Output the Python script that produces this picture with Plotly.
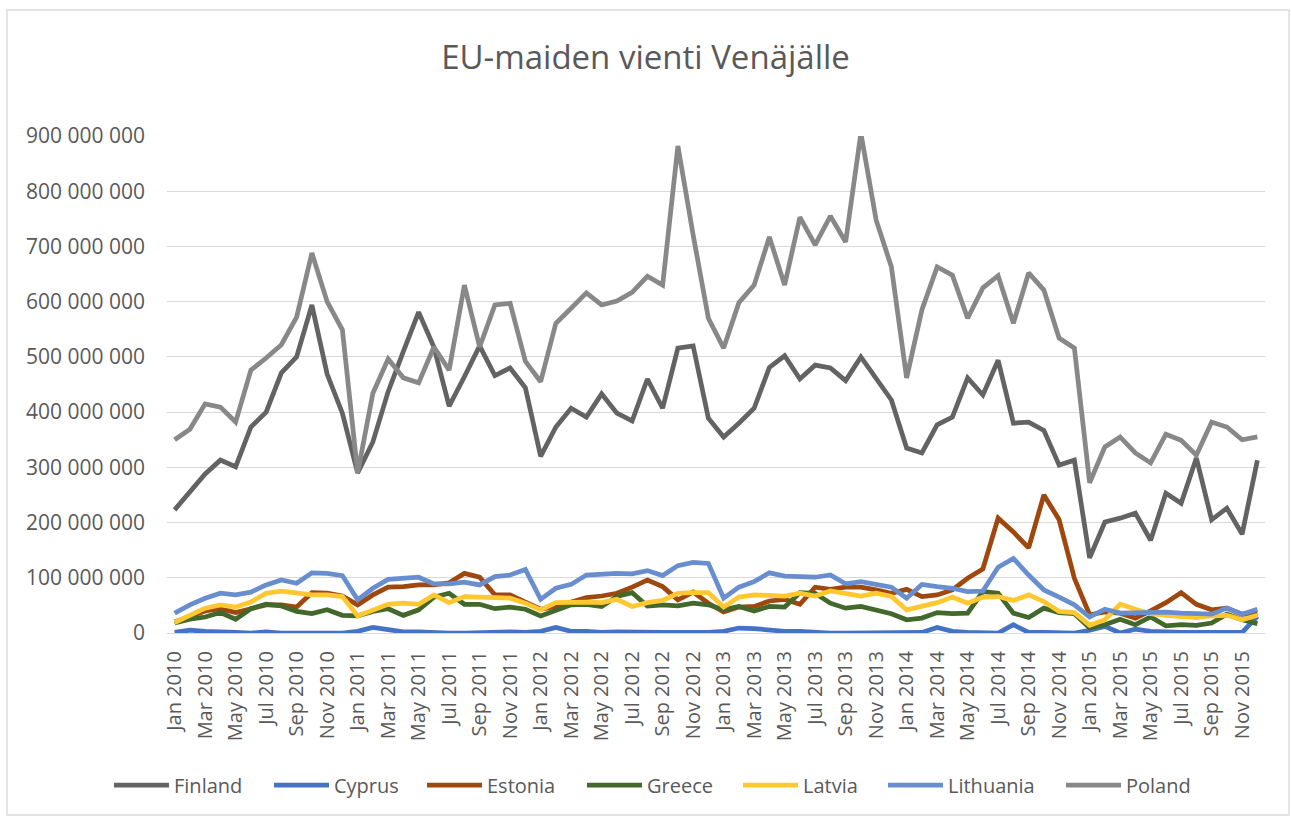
import plotly.graph_objects as go

months = ["Jan", "Feb", "Mar", "Apr", "May", "Jun", "Jul", "Aug", "Sep", "Oct", "Nov", "Dec"]
years = [2010, 2011, 2012, 2013, 2014, 2015]
categories = [f"{m} {y}" for y in years for m in months]
tick_labels = categories[::2]

# values in millions of euros
finland = [223, 254, 288, 313, 301, 373, 400, 471, 500, 594, 469, 398,
           290, 346, 437, 510, 581, 518, 411, 464, 520, 466, 480, 444,
           320, 373, 407, 391, 433, 398, 384, 460, 407, 516, 520, 389,
           355, 380, 407, 481, 502, 460, 485, 480, 457, 500, 461, 422,
           335, 326, 377, 391, 462, 431, 494, 380, 382, 367, 304, 313,
           136, 201, 208, 217, 168, 253, 235, 317, 205, 226, 179, 313]
cyprus = [1, 5, 3, 1, 1, 0, 2, 0, 0, 2, 1, 0,
          3, 10, 6, 2, 2, 0, 0, 0, 1, 2, 2, 1,
          3, 10, 3, 3, 1, 2, 1, 1, 1, 1, 0, 1,
          3, 9, 8, 5, 3, 3, 1, 0, 0, 0, 1, 1,
          1, 1, 10, 3, 1, 1, 0, 15, 1, 1, 0, 0,
          5, 12, 0, 7, 3, 1, 1, 1, 1, 1, 1, 30]
estonia = [20, 31, 40, 44, 37, 44, 51, 51, 47, 73, 72, 67,
           51, 69, 83, 84, 87, 87, 91, 108, 101, 69, 69, 56,
           43, 48, 55, 64, 67, 72, 83, 96, 84, 60, 74, 54,
           38, 47, 48, 58, 61, 52, 83, 79, 83, 83, 78, 72,
           79, 66, 69, 78, 99, 116, 208, 183, 154, 250, 205, 99,
           33, 38, 36, 27, 40, 55, 73, 52, 42, 45, 34, 36]
greece = [18, 25, 29, 37, 25, 44, 52, 49, 39, 35, 42, 32,
          31, 39, 44, 32, 42, 65, 72, 52, 52, 44, 47, 43,
          31, 42, 51, 52, 48, 66, 73, 49, 51, 49, 54, 51,
          42, 48, 40, 48, 47, 73, 72, 54, 45, 48, 42, 35,
          24, 27, 37, 35, 36, 75, 72, 36, 28, 45, 37, 35,
          9, 15, 25, 15, 29, 13, 15, 14, 18, 34, 24, 17]
latvia = [19, 32, 45, 51, 47, 56, 72, 76, 72, 69, 69, 66,
          31, 42, 52, 54, 52, 69, 55, 66, 65, 63, 63, 54,
          42, 55, 56, 56, 55, 61, 48, 55, 59, 72, 73, 73,
          47, 65, 69, 69, 67, 72, 67, 76, 72, 67, 72, 66,
          42, 49, 55, 65, 54, 65, 66, 59, 69, 57, 39, 37,
          14, 24, 52, 43, 35, 32, 31, 28, 31, 32, 24, 32]
lithuania = [36, 51, 63, 72, 69, 74, 87, 96, 90, 109, 108, 104,
             60, 81, 97, 99, 101, 89, 89, 92, 87, 102, 105, 115,
             61, 81, 88, 105, 107, 108, 107, 113, 104, 122, 128, 126,
             63, 83, 93, 109, 103, 102, 101, 105, 89, 93, 87, 83,
             63, 88, 84, 81, 75, 76, 119, 135, 105, 78, 65, 51,
             29, 43, 36, 37, 38, 38, 36, 35, 34, 45, 34, 43]
poland = [350, 369, 415, 409, 382, 476, 498, 522, 572, 688, 600, 549,
          290, 434, 496, 462, 453, 518, 476, 630, 518, 594, 597, 492,
          455, 561, 588, 616, 594, 601, 617, 646, 630, 882, 721, 570,
          516, 598, 630, 717, 630, 753, 703, 755, 708, 905, 748, 663,
          462, 585, 663, 648, 570, 625, 647, 561, 652, 621, 534, 516,
          272, 337, 355, 326, 308, 360, 349, 322, 382, 373, 350, 355]

series = [
    ("Finland", finland, "#636363"),
    ("Cyprus", cyprus, "#4472C4"),
    ("Estonia", estonia, "#9E480E"),
    ("Greece", greece, "#43682B"),
    ("Latvia", latvia, "#FFC830"),
    ("Lithuania", lithuania, "#698ED0"),
    ("Poland", poland, "#888888"),
]
# left edge (page px) of each legend entry's line sample
legend_left = [114, 274, 427, 587, 743, 888, 1066]

FONT = "Open Sans, Liberation Sans, sans-serif"
TXT = "#595959"

W, H = 1291, 818
L, R, T, B = 167, 26, 136, 185
pw, ph = W - L - R, H - T - B

fig = go.Figure()
legends = {}
for i, (name, vals, color) in enumerate(series):
    lg = "legend" if i == 0 else f"legend{i + 1}"
    fig.add_trace(go.Scatter(
        x=categories, y=[v * 1e6 for v in vals], name=name, mode="lines",
        line=dict(color=color, width=4.75, shape="linear"),
        legend=lg,
    ))
    legends[lg] = dict(
        orientation="h", xanchor="left", yanchor="middle",
        x=(legend_left[i] - 5 - L) / pw,
        y=(H - B - 785) / ph,
        font=dict(family=FONT, size=20, color=TXT),
        itemwidth=55, borderwidth=0, bgcolor="rgba(0,0,0,0)",
    )

fig.update_layout(
    width=W, height=H,
    margin=dict(l=L, r=R, t=T, b=B),
    paper_bgcolor="white", plot_bgcolor="white",
    separators=", ",
    font=dict(family=FONT, size=20, color=TXT),
    title=dict(text="EU-maiden vienti Venäjälle", x=0.5, xanchor="center",
               y=1 - 57 / H, yanchor="middle",
               font=dict(family=FONT, size=33, color=TXT)),
    showlegend=True,
    xaxis=dict(type="category", categoryorder="array", categoryarray=categories,
               range=[-0.5, 71.5], tickmode="array", tickvals=tick_labels,
               ticktext=tick_labels, tickangle=-90, showgrid=False,
               showline=True, linecolor="#D9D9D9", linewidth=1.3,
               ticks="", ticklabelstandoff=9,
               tickfont=dict(family=FONT, size=20, color=TXT)),
    yaxis=dict(range=[0, 900e6], tickmode="array",
               tickvals=[i * 100e6 for i in range(10)],
               tickformat=",d", showgrid=True, gridcolor="#D9D9D9", gridwidth=1.3,
               zeroline=False, showline=False, ticks="", ticklabelstandoff=21,
               tickfont=dict(family=FONT, size=21, color=TXT)),
    shapes=[dict(type="rect", xref="paper", yref="paper",
                 x0=(7 - L) / pw, x1=(1289 - L) / pw,
                 y0=(H - B - 815) / ph, y1=(H - B - 10) / ph,
                 line=dict(color="#D9D9D9", width=1.3), fillcolor="rgba(0,0,0,0)",
                 layer="below")],
    **legends,
)

fig.write_html("out.html",
               config={"displayModeBar": False},
               post_script="document.body.style.margin='0px';"
                           "document.body.style.overflow='hidden';")
